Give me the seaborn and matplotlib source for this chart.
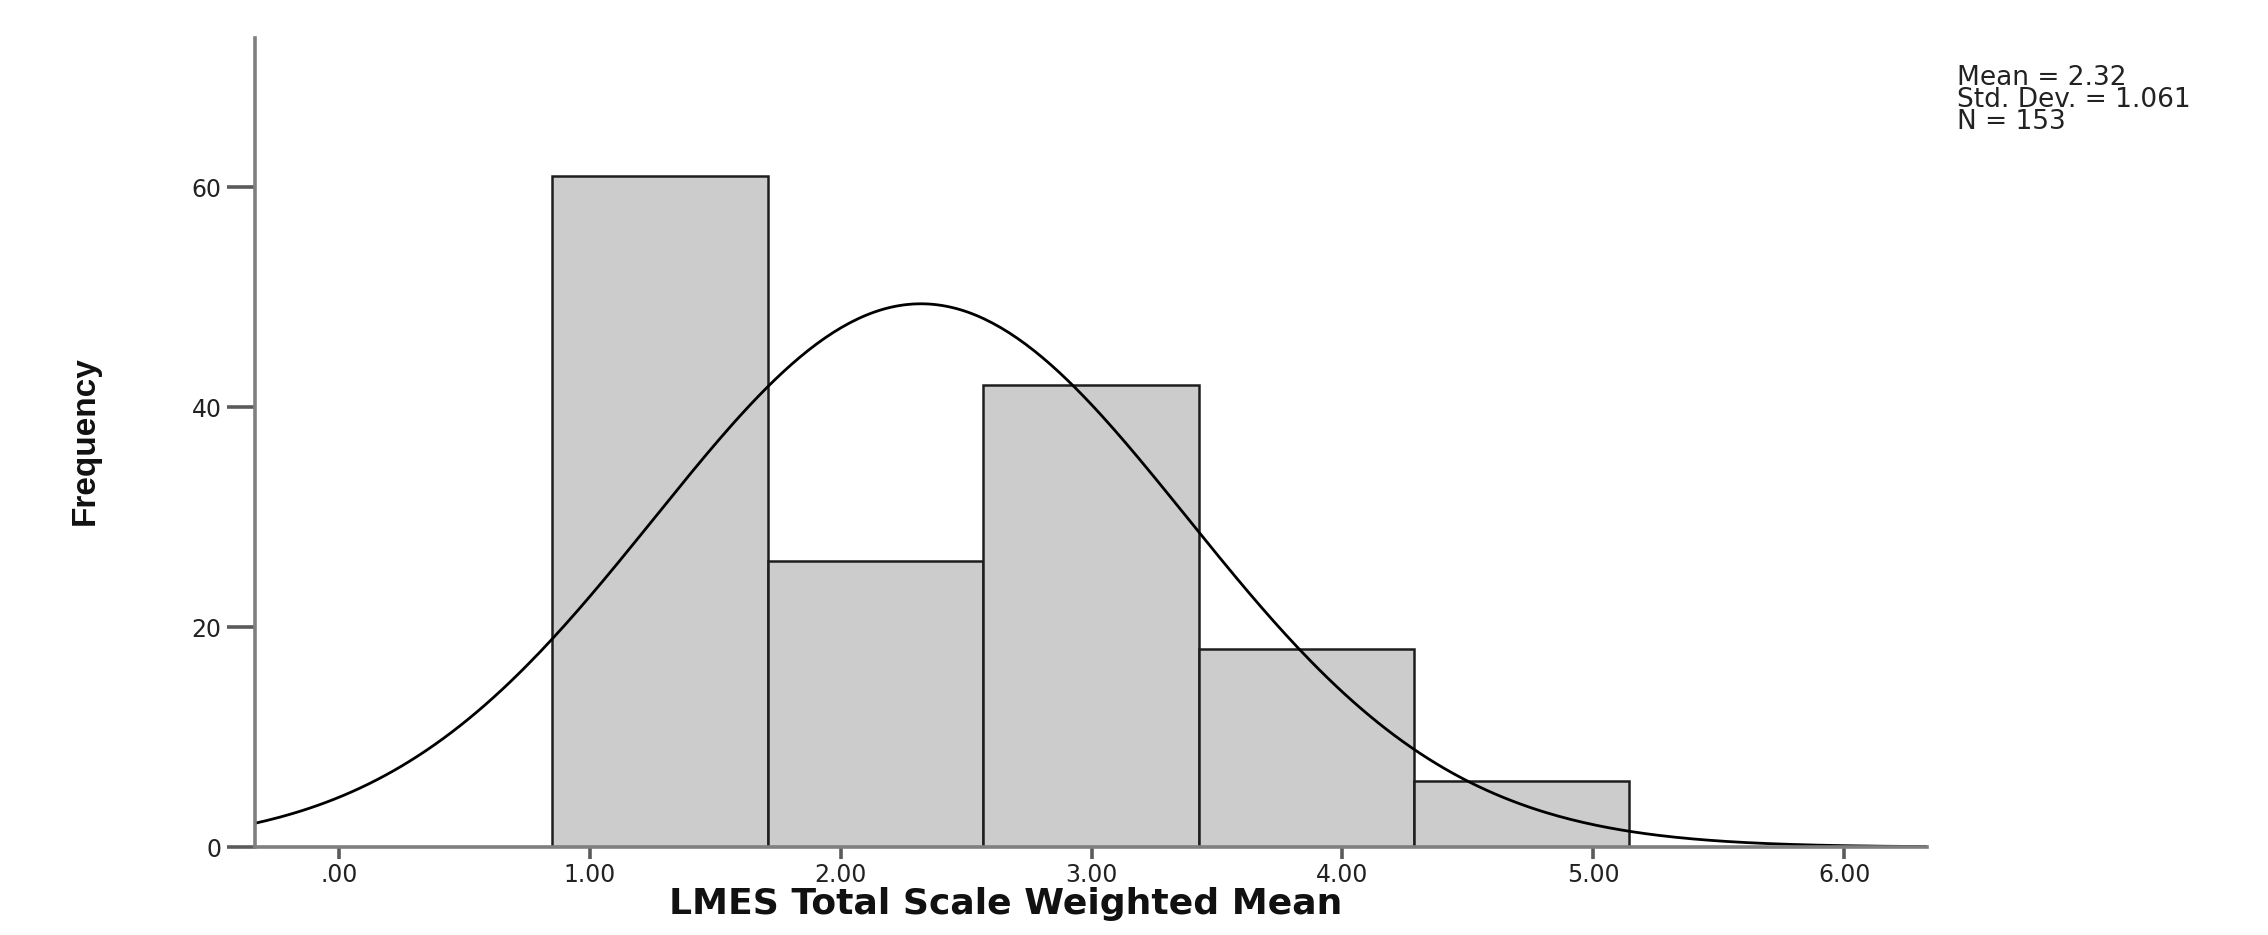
import numpy as np
import pandas as pd
import matplotlib
matplotlib.use("Agg")
import matplotlib.pyplot as plt
import seaborn as sns
from matplotlib.ticker import FuncFormatter

# ---- data ----
bin_edges = [0.851, 1.710, 2.568, 3.427, 4.285, 5.144]
frequencies = [61, 26, 42, 18, 6]
mean_val = 2.32
std_val = 1.061
n_obs = 153
x_ticks = [0, 1, 2, 3, 4, 5, 6]
y_ticks = [0, 20, 40, 60]

sns.set_style("white")
plt.rcParams["font.family"] = ["DejaVu Sans"]

fig = plt.figure(figsize=(22.68, 9.35), dpi=100)
ax = fig.add_axes([0.1124, 0.0941, 0.7372, 0.8653])

edges = np.array(bin_edges)
centers = (edges[:-1] + edges[1:]) / 2
hist_df = pd.DataFrame({"value": centers, "count": frequencies})

sns.histplot(data=hist_df, x="value", weights="count", bins=list(bin_edges), ax=ax,
             color="#cccccc", alpha=1, edgecolor="#1e1e1e", linewidth=1.8)

# normal curve scaled to counts
xlim = (-0.335, 6.33)
bw = edges[1] - edges[0]
xs = np.linspace(xlim[0], xlim[1], 400)
ys = n_obs * bw * np.exp(-0.5 * ((xs - mean_val) / std_val) ** 2) / (std_val * np.sqrt(2 * np.pi))
sns.lineplot(x=xs, y=ys, ax=ax, color="black", linewidth=2.0)

ax.set_xlim(*xlim)
ax.set_ylim(0, 73.6)
ax.set_xticks(x_ticks)
ax.xaxis.set_major_formatter(FuncFormatter(lambda v, p: ("%.2f" % v).lstrip("0") if v < 1 else "%.2f" % v))
ax.set_yticks(y_ticks)

for s in ["top", "right"]:
    ax.spines[s].set_visible(False)
for s in ["left", "bottom"]:
    ax.spines[s].set_color("#7f7f7f")
    ax.spines[s].set_linewidth(2.6)

ax.tick_params(axis="x", direction="out", length=8.6, width=2.6, color="#5a5a5a",
               labelsize=17, labelcolor="#222222", pad=3, bottom=True)
ax.tick_params(axis="y", direction="out", length=20, width=2.6, color="#5a5a5a",
               labelsize=17, labelcolor="#222222", pad=4, left=True)

ax.set_xlabel("LMES Total Scale Weighted Mean", fontsize=26, fontweight="bold", color="#111111")
ax.xaxis.set_label_coords(0.449, -0.05)
ax.set_ylabel("Frequency", fontsize=24, fontweight="bold", color="#111111",
              family=["Liberation Sans Narrow", "Liberation Sans", "DejaVu Sans"])
ax.yaxis.set_label_coords(-0.092, 0.502)

fig.text(0.8629, 0.93,
         "Mean = %.2f\nStd. Dev. = %.3f\nN = %d" % (mean_val, std_val, n_obs),
         fontsize=19, color="#222222", va="top", ha="left", linespacing=0.8)

fig.savefig("out.png", dpi=100)
